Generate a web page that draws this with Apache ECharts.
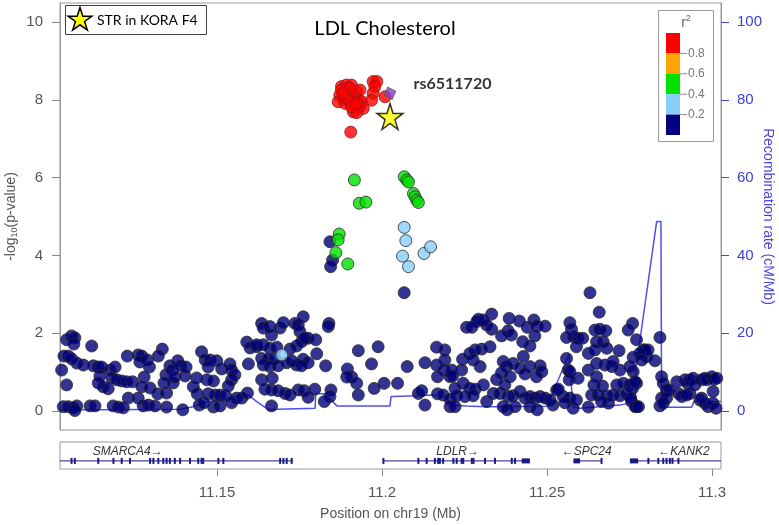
<!DOCTYPE html>
<html><head><meta charset="utf-8">
<script src="https://cdn.jsdelivr.net/npm/echarts@6/dist/echarts.min.js"></script>
<style>html,body{margin:0;padding:0;background:#fff}#c{width:779px;height:525px}</style>
</head><body><div id="c"></div>
<script>
// ---------------- data ----------------
const xMin = 11.1024, xMax = 11.3027;
const xTicks = [11.15, 11.2, 11.25, 11.3];
const xTickLabels = ['11.15', '11.2', '11.25', '11.3'];
const pTicks = [0, 2, 4, 6, 8, 10];
const recTicks = [0, 20, 40, 60, 80, 100];
const ldBreaks = ['0.8', '0.6', '0.4', '0.2'];
const ldColors = ['#ff0000', '#ffa500', '#00e000', '#87cefa', '#000080'];
const titleText = 'LDL Cholesterol';
const strLegendText = 'STR in KORA F4';

// [position Mb, -log10 p]  r2 < 0.2
const snpNavy = [
[11.1029,1.05],[11.1036,1.41],[11.1049,1.41],[11.1059,1.34],[11.1044,1.83],[11.1059,1.93],[11.1069,1.88],[11.1066,1.72],
[11.1044,0.67],[11.1075,1.23],[11.1095,1.18],[11.1120,1.67],[11.1125,1.16],[11.1140,1.13],[11.1150,1.13],[11.1145,0.90],
[11.1140,0.72],[11.1155,0.62],[11.1170,0.57],[11.1176,1.05],[11.1191,1.13],[11.1181,0.85],[11.1196,0.80],[11.1211,0.77],
[11.1226,0.75],[11.1244,0.75],[11.1228,1.41],[11.1261,1.44],[11.1272,1.41],[11.1266,1.26],[11.1289,1.31],[11.1295,1.13],
[11.1279,0.87],[11.1272,0.62],[11.1297,0.59],[11.1320,0.44],[11.1347,0.46],[11.1334,1.59],[11.1322,1.41],[11.1357,1.16],
[11.1365,1.05],[11.1381,1.29],[11.1345,0.93],[11.1339,0.72],[11.1367,0.72],[11.1372,0.87],[11.1403,0.90],[11.1390,1.16],
[11.1406,1.13],[11.1438,0.85],[11.1428,0.62],[11.1440,0.44],[11.1453,1.52],[11.1464,1.31],[11.1479,1.31],[11.1499,1.29],
[11.1473,1.13],[11.1469,0.80],[11.1489,0.77],[11.1473,0.44],[11.1494,0.41],[11.1509,0.41],[11.1526,0.39],[11.1514,1.08],
[11.1539,1.21],[11.1544,1.05],[11.1554,0.93],[11.1544,0.80],[11.1534,0.64],[11.1559,0.33],[11.1575,0.33],[11.1592,0.46],
[11.1595,1.21],[11.1590,1.77],[11.1600,1.62],[11.1620,1.65],
[11.1034,0.11],[11.1049,0.11],[11.1064,0.08],[11.1075,0.13],[11.1069,0.01],[11.1115,0.13],[11.1130,0.13],[11.1185,0.13],
[11.1201,0.10],[11.1216,0.08],[11.1231,0.33],[11.1261,0.33],[11.1276,0.13],[11.1292,0.15],[11.1312,0.13],[11.1347,0.10],
[11.1396,0.03],[11.1446,0.15],[11.1460,0.21],[11.1489,0.10],[11.1509,0.13],[11.1544,0.21],
[11.1635,2.25],[11.1640,2.13],[11.1660,2.17],[11.1665,1.95],[11.1691,2.13],[11.1701,2.27],[11.1736,2.25],[11.1746,2.21],
[11.1761,2.42],[11.1751,2.04],[11.1839,2.25],[11.1837,2.17],[11.1776,1.87],[11.1799,1.83],[11.1620,1.70],[11.1640,1.70],
[11.1660,1.61],[11.1681,1.64],[11.1721,1.59],[11.1741,1.67],[11.1756,1.78],[11.1766,1.87],[11.1802,1.47],[11.1635,1.35],
[11.1655,1.33],[11.1675,1.35],[11.1640,1.18],[11.1660,1.14],[11.1685,1.16],[11.1711,1.24],[11.1726,1.29],[11.1741,1.18],
[11.1761,1.33],[11.1776,1.24],[11.1756,1.16],[11.1829,1.16],[11.1635,0.80],[11.1667,0.84],[11.1645,0.56],[11.1665,0.54],
[11.1685,0.52],[11.1706,0.45],[11.1721,0.41],[11.1746,0.54],[11.1764,0.52],[11.1776,0.35],[11.1796,0.56],[11.1845,0.54],
[11.1842,0.37],[11.1825,0.24],[11.1665,0.13],[11.1928,1.55],[11.1988,1.65],[11.1968,1.21],[11.1895,1.08],[11.1908,0.87],
[11.1893,0.87],[11.1923,0.71],[11.1976,0.58],[11.2006,0.71],[11.2047,0.71],[11.1928,0.41],[11.2076,1.14],[11.2130,1.24],
[11.2110,0.45],[11.2120,0.52],[11.2130,0.15],[11.2165,1.64],[11.2190,1.57],[11.2190,1.31],[11.2165,1.18],[11.2188,1.05],
[11.2168,0.88],[11.2206,0.88],[11.2168,0.44],[11.2185,0.41],[11.2206,0.30],[11.2206,0.11],
[11.2630,3.04],[11.2658,2.54],[11.2332,2.49],[11.2292,2.36],[11.2287,2.30],[11.2307,2.34],[11.2256,2.15],[11.2272,2.15],
[11.2317,2.21],[11.2332,2.10],[11.2385,2.38],[11.2416,2.31],[11.2440,2.15],[11.2460,2.34],[11.2470,2.18],[11.2494,2.18],
[11.2382,2.06],[11.2392,1.95],[11.2362,1.93],[11.2463,1.93],[11.2426,1.78],[11.2448,1.67],[11.2569,2.27],[11.2574,2.10],
[11.2581,1.91],[11.2594,1.87],[11.2608,1.87],[11.2559,1.89],[11.2589,1.65],[11.2645,2.08],[11.2660,2.10],[11.2678,2.06],
[11.2650,1.78],[11.2670,1.78],[11.2759,2.25],[11.2746,2.08],[11.2771,1.83],[11.2792,1.57],[11.2802,1.40],[11.2625,1.48],
[11.2645,1.57],[11.2681,1.61],[11.2718,1.55],[11.2761,1.38],[11.2327,1.65],[11.2302,1.59],[11.2282,1.57],[11.2266,1.48],
[11.2244,1.33],[11.2276,1.31],[11.2297,1.14],[11.2241,1.05],[11.2211,1.05],[11.2214,0.90],[11.2367,1.27],[11.2377,1.14],
[11.2397,1.22],[11.2428,1.40],[11.2448,1.14],[11.2418,1.10],[11.2479,1.16],[11.2484,1.01],[11.2362,0.98],[11.2347,0.81],
[11.2388,0.88],[11.2433,0.95],[11.2468,0.88],[11.2559,1.35],[11.2564,1.05],[11.2569,1.01],[11.2594,0.84],[11.2567,0.80],
[11.2625,1.05],[11.2650,1.22],[11.2675,1.18],[11.2696,1.14],[11.2700,1.27],[11.2721,1.05],[11.2650,0.88],[11.2642,0.67],
[11.2668,0.64],[11.2711,0.67],[11.2731,0.71],[11.2751,0.67],[11.2759,0.58],[11.2246,0.71],[11.2266,0.58],[11.2282,0.56],
[11.2307,0.67],[11.2221,0.58],[11.2226,0.39],[11.2251,0.37],[11.2276,0.39],[11.2317,0.24],[11.2337,0.45],[11.2357,0.45],
[11.2372,0.67],[11.2382,0.37],[11.2397,0.39],[11.2418,0.50],[11.2433,0.33],[11.2448,0.37],[11.2463,0.33],[11.2479,0.37],
[11.2494,0.33],[11.2509,0.28],[11.2529,0.54],[11.2549,0.37],[11.2569,0.33],[11.2554,0.21],[11.2579,0.07],[11.2221,0.11],
[11.2367,0.11],[11.2379,0.03],[11.2403,0.11],[11.2448,0.11],[11.2470,0.03],[11.2518,0.15],[11.2625,0.10],[11.2635,0.41],
[11.2655,0.41],[11.2681,0.39],[11.2700,0.41],[11.2721,0.39],[11.2741,0.44],[11.2756,0.24],[11.2771,0.11],[11.2686,0.20],
[11.2665,0.24],[11.2589,0.28],[11.2534,0.56],
[11.2796,1.57],[11.2806,1.57],[11.2781,1.48],[11.2787,1.31],[11.2827,1.29],[11.2842,1.89],[11.2847,0.88],[11.2852,0.71],
[11.2862,0.54],[11.2870,0.54],[11.2847,0.33],[11.2862,0.33],[11.2842,0.13],[11.2852,0.20],[11.2893,0.75],[11.2898,0.45],
[11.2908,0.37],[11.2918,0.80],[11.2925,0.71],[11.2933,0.80],[11.2943,0.84],[11.2948,0.67],[11.2933,0.45],[11.2923,0.41],
[11.2963,0.28],[11.2968,0.80],[11.2978,0.84],[11.2984,0.80],[11.2999,0.88],[11.3006,0.81],[11.3014,0.84],[11.3003,0.50],
[11.2968,0.33],[11.2978,0.20],[11.2988,0.11],[11.3003,0.20],[11.3012,0.07],[11.2771,0.71],[11.2753,0.33],[11.2767,0.11],
[11.2777,0.11],[11.2761,1.01],[11.2751,1.14],[11.2767,0.75],
[11.1842,4.35],[11.1850,3.88],[11.1844,3.71],[11.2067,3.04]
];
// 0.2 <= r2 < 0.4
const snpLightBlue = [
[11.2067,4.72],[11.2072,4.38],[11.2062,3.98],[11.2080,3.71],[11.2127,4.05],[11.2147,4.22],[11.1696,1.44]
];
// 0.4 <= r2 < 0.6
const snpGreen = [
[11.1916,5.94],[11.1931,5.34],[11.1951,5.37],[11.2067,6.02],[11.2075,5.94],[11.2080,5.89],[11.2095,5.59],
[11.2100,5.51],[11.2105,5.42],[11.2110,5.36],[11.1870,4.55],[11.1867,4.40],[11.1860,4.07],[11.1896,3.78]
];
// r2 >= 0.8
const snpRed = [
[11.1877,8.34],[11.1892,8.38],[11.1907,8.38],[11.1923,8.21],[11.1933,8.25],[11.1872,8.12],[11.1882,8.04],[11.1897,8.17],
[11.1913,8.08],[11.1928,7.99],[11.1938,7.95],[11.1867,7.95],[11.1888,7.91],[11.1903,7.95],[11.1918,7.87],[11.1933,7.82],
[11.1943,7.78],[11.1913,7.69],[11.1923,7.67],[11.1877,8.25],[11.1903,8.30],[11.1892,8.04],[11.1907,7.82],[11.1882,8.17],
[11.1923,7.91],[11.1973,8.47],[11.1984,8.47],[11.1978,8.34],[11.1973,8.17],[11.1968,7.99],[11.2009,8.08],[11.1905,7.17]
];
const leadSnp = [[11.2024, 8.17]];
const leadSnpName = 'rs6511720';
const strMarker = [[11.2024, 7.57]];

// recombination rate (cM/Mb)
const recombPos  = [11.1024,11.1388,11.1428,11.1469,11.1519,11.1549,11.1595,11.1620,11.1655,11.1797,11.1799,11.1827,11.1863,
                    11.2024,11.2027,11.2110,11.2150,11.2191,11.2211,11.2256,11.2317,11.2500,11.2566,11.2579,11.2600,11.2721,
                    11.2767,11.2770,11.2832,11.2845,11.2847,11.2938,11.2945,11.3027];
const recombRate = [0.26,0.44,1.1,2.4,2.8,3.7,4.1,2.4,0.4,0.7,4.5,4.4,1.3,
                    1.3,3.7,3.9,4.1,3.7,1.5,1.3,1.1,1.2,14.5,1.0,0.7,1.5,
                    2.4,11.3,48.7,48.7,0.95,0.95,2.4,2.4];

// genes
const geneNames  = ['SMARCA4', 'LDLR', 'SPC24', 'KANK2'];
const geneStart  = [11.1024, 11.2004, 11.2580, 11.2751];
const geneEnd    = [11.1730, 11.2448, 11.2665, 11.3027];
const geneLabelX = [11.1229, 11.2229, 11.2620, 11.2915];
const geneStrand = ['+', '+', '-', '-'];
const exonStart = [11.1059,11.1069,11.1140,11.1186,11.1211,11.1236,11.1297,11.1307,11.1322,11.1337,11.1347,11.1357,11.1372,
                   11.1388,11.1418,11.1443,11.1453,11.1458,11.1504,11.1519,11.1691,11.1701,11.1711,11.1726,
                   11.2004,11.2110,11.2135,11.2160,11.2170,11.2175,11.2185,11.2216,11.2226,11.2241,11.2246,11.2272,11.2277,
                   11.2312,11.2342,11.2393,11.2403,11.2423,
                   11.2580,11.2665,
                   11.2751,11.2807,11.2837,11.2852,11.2862,11.2872,11.2880,11.2898];
const exonEnd   = [11.1059,11.1069,11.1140,11.1186,11.1211,11.1236,11.1297,11.1307,11.1322,11.1337,11.1347,11.1357,11.1372,
                   11.1388,11.1418,11.1443,11.1453,11.1458,11.1504,11.1519,11.1691,11.1701,11.1711,11.1726,
                   11.2004,11.2110,11.2135,11.2160,11.2170,11.2175,11.2185,11.2216,11.2226,11.2241,11.2246,11.2272,11.2277,
                   11.2312,11.2342,11.2393,11.2403,11.2448,
                   11.2600,11.2665,
                   11.2776,11.2807,11.2837,11.2852,11.2862,11.2872,11.2880,11.2898];

// ---------------- chart ----------------
const chart = echarts.init(document.getElementById('c'), null, {renderer: 'canvas'});
const AX = 'Liberation Sans, Arial, sans-serif';
const CAL = 'Lato, Carlito, Calibri, sans-serif';
const STAR = 'path://M50,0L61.2,34.5L97.6,34.5L68.2,55.9L79.4,90.5L50,69.1L20.6,90.5L31.8,55.9L2.4,34.5L38.8,34.5Z';

function starPoints(cx, cy, R) {
  const r = R * 0.382, pts = [];
  for (let i = 0; i < 10; i++) {
    const a = -Math.PI / 2 + i * Math.PI / 5, rad = i % 2 ? r : R;
    pts.push([cx + rad * Math.cos(a), cy + rad * Math.sin(a)]);
  }
  return pts;
}

const SYM = 12;
const pointStyle = c => ({color: c, borderColor: '#2a2a2a', borderWidth: 1});
const geneData = geneNames.map((n, i) => [geneStart[i], geneEnd[i], geneLabelX[i], i]);
const exonData = exonStart.map((s, i) => [s, exonEnd[i]]);
const GENE_Y = 0.3, LABEL_Y = 0.63;

const ldGraphic = [];
ldGraphic.push({type: 'rect', left: 658, top: 10, shape: {width: 55, height: 131},
  style: {fill: '#fff', stroke: '#999', lineWidth: 1}, z: 50});
ldGraphic.push({type: 'text', z: 51, style: {x: 686, y: 23, text: '{r|r}{s|2}', align: 'center', verticalAlign: 'middle',
  rich: {r: {fontSize: 14, fill: '#666', fontFamily: AX}, s: {fontSize: 9, fill: '#666', fontFamily: AX, verticalAlign: 'top', padding: [0,0,8,0]}}}});
ldColors.forEach((c, i) => {
  ldGraphic.push({type: 'rect', z: 51, shape: {x: 666, y: 33 + i * 20.4, width: 14, height: 20.4}, style: {fill: c}});
});
ldBreaks.forEach((b, i) => {
  const y = 33 + (i + 1) * 20.4;
  ldGraphic.push({type: 'line', z: 51, shape: {x1: 680, y1: y, x2: 687, y2: y}, style: {stroke: '#888', lineWidth: 1}});
  ldGraphic.push({type: 'text', z: 51, style: {x: 688, y: y, text: b, fontSize: 12, fill: '#777', fontFamily: AX, verticalAlign: 'middle'}});
});

const option = {
  backgroundColor: '#fff',
  animation: false,
  title: {text: titleText, left: 380, top: 14, textAlign: 'center',
    textStyle: {fontSize: 20, fontWeight: 'normal', color: '#000', fontFamily: CAL}},
  grid: [
    {left: 60, top: 3, width: 661, height: 427, show: true, borderColor: '#999', borderWidth: 1, backgroundColor: 'transparent',
      containLabel: false, outerBoundsMode: 'none'},
    {left: 60, top: 442, width: 661, height: 27, show: true, borderColor: '#999', borderWidth: 1, backgroundColor: 'transparent',
      containLabel: false, outerBoundsMode: 'none'}
  ],
  xAxis: [
    {gridIndex: 0, type: 'value', min: xMin, max: xMax, axisLine: {show: false}, axisTick: {show: false},
      axisLabel: {show: false}, splitLine: {show: false}},
    {gridIndex: 1, type: 'value', min: xMin, max: xMax, axisLine: {show: false},
      axisTick: {show: true, customValues: xTicks, length: 7, lineStyle: {color: '#888'}},
      axisLabel: {customValues: xTicks, formatter: v => xTickLabels[xTicks.indexOf(+v.toFixed(2))] ?? v,
        fontSize: 15, color: '#555', fontFamily: AX, margin: 16},
      splitLine: {show: false},
      name: 'Position on chr19 (Mb)', nameLocation: 'middle', nameGap: 38,
      nameTextStyle: {fontSize: 14, color: '#555', fontFamily: AX}}
  ],
  yAxis: [
    {gridIndex: 0, type: 'value', position: 'left', min: -0.49, max: 10.49,
      axisLine: {show: true, lineStyle: {color: '#999'}},
      axisTick: {show: true, customValues: pTicks, length: 8, lineStyle: {color: '#888'}},
      axisLabel: {customValues: pTicks, fontSize: 15, color: '#555', fontFamily: AX, margin: 17},
      splitLine: {show: false},
      name: '-log{s|10}(p-value)', nameLocation: 'middle', nameGap: 41, nameMoveOverlap: false,
      nameTextStyle: {fontSize: 14, color: '#555', fontFamily: AX,
        rich: {s: {fontSize: 9, color: '#555', fontFamily: AX, padding: [6, 0, 0, 0]}}}},
    {gridIndex: 0, type: 'value', position: 'right', min: -4.9, max: 104.9,
      axisLine: {show: true, lineStyle: {color: '#999'}},
      axisTick: {show: true, customValues: recTicks, length: 8, lineStyle: {color: '#4444dd'}},
      axisLabel: {customValues: recTicks, fontSize: 15, color: '#4040d0', fontFamily: AX, margin: 16},
      splitLine: {show: false},
      name: 'Recombination rate (cM/Mb)', nameLocation: 'middle', nameGap: 40, nameRotate: -90, nameMoveOverlap: false,
      nameTextStyle: {fontSize: 14, color: '#4848dc', fontFamily: AX}},
    {gridIndex: 1, type: 'value', min: 0, max: 1, show: false}
  ],
  graphic: [
    {type: 'rect', left: 65, top: 5, shape: {width: 141, height: 29}, style: {fill: '#fff', stroke: '#444', lineWidth: 1}, z: 50},
    {type: 'polygon', z: 51, shape: {points: starPoints(80, 20, 12.5)}, style: {fill: '#ffff00', stroke: '#000', lineWidth: 1.5}},
    {type: 'text', z: 51, style: {x: 97, y: 20, text: strLegendText, fontSize: 14, fill: '#000', fontFamily: CAL, verticalAlign: 'middle'}},
    ...ldGraphic
  ],
  series: [
    {type: 'line', xAxisIndex: 0, yAxisIndex: 1, data: recombPos.map((p, i) => [p, recombRate[i]]),
      symbol: 'none', lineStyle: {color: '#4f4ff0', width: 1.5}, z: 1, silent: true},
    {type: 'scatter', xAxisIndex: 0, yAxisIndex: 0, data: snpNavy, symbolSize: SYM, itemStyle: pointStyle('#000078'), z: 2},
    {type: 'scatter', xAxisIndex: 0, yAxisIndex: 0, data: snpLightBlue, symbolSize: SYM, itemStyle: pointStyle('#87cefa'), z: 3},
    {type: 'scatter', xAxisIndex: 0, yAxisIndex: 0, data: snpGreen, symbolSize: SYM, itemStyle: pointStyle('#00e000'), z: 4},
    {type: 'scatter', xAxisIndex: 0, yAxisIndex: 0, data: snpRed, symbolSize: SYM, itemStyle: {color: '#ff0000', borderColor: '#8b1a1a', borderWidth: 1}, z: 5},
    {type: 'scatter', xAxisIndex: 0, yAxisIndex: 0, data: leadSnp, symbol: 'diamond', symbolSize: [12, 13], symbolRotate: 20,
      itemStyle: {color: '#8b3fd0', borderColor: '#555', borderWidth: 1}, z: 6,
      label: {show: true, formatter: leadSnpName, position: [32, -9], fontSize: 16, fontWeight: 'bold', color: '#000', fontFamily: CAL}},
    {type: 'scatter', xAxisIndex: 0, yAxisIndex: 0, data: strMarker, symbol: STAR, symbolSize: 26,
      itemStyle: {color: '#ffff00', borderColor: '#000', borderWidth: 1.5}, z: 7},
    {type: 'custom', xAxisIndex: 1, yAxisIndex: 2, data: geneData, silent: true, z: 3,
      renderItem: (params, api) => {
        const a = api.coord([api.value(0), GENE_Y]), b = api.coord([api.value(1), GENE_Y]);
        const l = api.coord([api.value(2), LABEL_Y]);
        const i = api.value(3);
        const txt = geneStrand[i] === '+' ? geneNames[i] + '\u2192' : '\u2190' + geneNames[i];
        return {type: 'group', children: [
          {type: 'line', shape: {x1: a[0], y1: a[1], x2: b[0], y2: b[1]}, style: {stroke: '#1a1a80', lineWidth: 1}},
          {type: 'text', style: {x: l[0], y: l[1], text: txt, align: 'center', verticalAlign: 'middle',
            fontSize: 12, fontStyle: 'italic', fill: '#333', fontFamily: AX}}
        ]};
      }},
    {type: 'custom', xAxisIndex: 1, yAxisIndex: 2, data: exonData, silent: true, z: 4,
      renderItem: (params, api) => {
        const a = api.coord([api.value(0), GENE_Y]), b = api.coord([api.value(1), GENE_Y]);
        const w = Math.max(2, b[0] - a[0]);
        const h = w > 3 ? 5 : 6;
        return {type: 'rect', shape: {x: a[0] - (w > 3 ? 0 : 1), y: a[1] - h / 2, width: w, height: h}, style: {fill: '#1a1a80'}};
      }}
  ]
};
chart.setOption(option);
</script></body></html>
